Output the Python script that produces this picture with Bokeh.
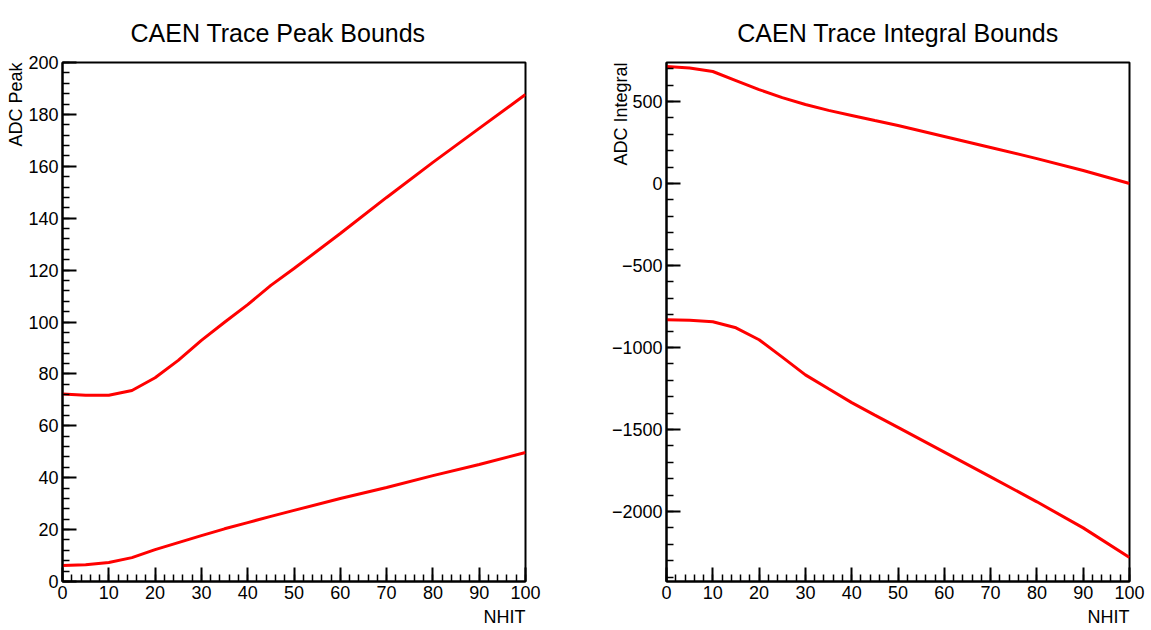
from bokeh.plotting import figure
from bokeh.layouts import row
from bokeh.models import Range1d, SingleIntervalTicker, Title, CustomJSTickFormatter
from bokeh.embed import file_html
from bokeh.resources import INLINE

nhit = [0, 5, 10, 15, 20, 25, 30, 35, 40, 45, 50, 60, 70, 80, 90, 100]
peak_upper = [72.3, 71.8, 71.8, 73.6, 78.5, 85.2, 92.9, 99.9, 106.7, 114.1, 120.6, 134.1, 148.0, 161.5, 174.6, 187.7]
peak_lower = [6.2, 6.5, 7.3, 9.2, 12.3, 15.0, 17.7, 20.3, 22.7, 25.1, 27.4, 32.0, 36.2, 40.8, 45.1, 49.7]
integral_upper = [713, 705, 683, 628, 573, 524, 482, 446, 415, 384, 354, 287, 220, 152, 79, 0]
integral_lower = [-831, -834, -843, -880, -953, -1059, -1167, -1252, -1336, -1412, -1487, -1638, -1789, -1941, -2100, -2280]

FONT = "Liberation Sans"


def style(p, yint):
    p.xaxis.ticker = SingleIntervalTicker(interval=10, num_minor_ticks=5)
    p.yaxis.ticker = SingleIntervalTicker(interval=yint, num_minor_ticks=5)
    for ax in (p.xaxis[0], p.yaxis[0]):
        ax.major_tick_in = 14
        ax.major_tick_out = 0
        ax.minor_tick_in = 7
        ax.minor_tick_out = 0
        ax.axis_line_width = 2
        ax.major_tick_line_width = 2
        ax.minor_tick_line_width = 1.5
        ax.major_label_text_font = FONT
        ax.major_label_text_font_size = "18px"
        ax.major_label_text_color = "black"
        ax.major_label_standoff = 4
        ax.formatter = CustomJSTickFormatter(code="return tick < 0 ? '\u2212' + Math.abs(tick) : String(tick);")
    p.xgrid.visible = False
    p.ygrid.visible = False
    p.outline_line_color = "black"
    p.outline_line_width = 2
    p.background_fill_color = "white"
    p.border_fill_color = "white"


def make(title, ylab, ylo, yhi, yint, up, lo, width, bl, br, title_align, title_off, ylab_standoff):
    p = figure(width=width, height=630, output_backend="svg", toolbar_location=None,
               x_range=Range1d(0, 100), y_range=Range1d(ylo, yhi),
               min_border_left=bl, min_border_right=br, min_border_top=62, min_border_bottom=49)
    style(p, yint)
    p.line(nhit, up, line_color="red", line_width=3)
    p.line(nhit, lo, line_color="red", line_width=3)
    p.title.text = ""
    p.title.visible = False
    t = Title(text=title, align=title_align, vertical_align="top", text_font=FONT,
              text_font_size="25px", text_font_style="normal", text_color="black",
              offset=title_off, standoff=27)
    p.add_layout(t, "above")
    yt = Title(text=ylab, align="right", text_font=FONT, text_font_size="18px",
               text_font_style="normal", text_color="black", standoff=ylab_standoff)
    p.add_layout(yt, "left")
    xt = Title(text="NHIT", align="right", text_font=FONT, text_font_size="18px",
               text_font_style="normal", text_color="black", standoff=7)
    p.add_layout(xt, "below")
    return p


p1 = make("CAEN Trace Peak Bounds", "ADC Peak", 0, 200, 20, peak_upper, peak_lower,
          575, 62, 50, "left", 68, 0)
p2 = make("CAEN Trace Integral Bounds", "ADC Integral", -2427, 738, 500, integral_upper, integral_lower,
          576, 91, 22, "center", 0, -45)

layout = row(p1, p2)
open("out.html", "w").write(file_html(layout, INLINE))
